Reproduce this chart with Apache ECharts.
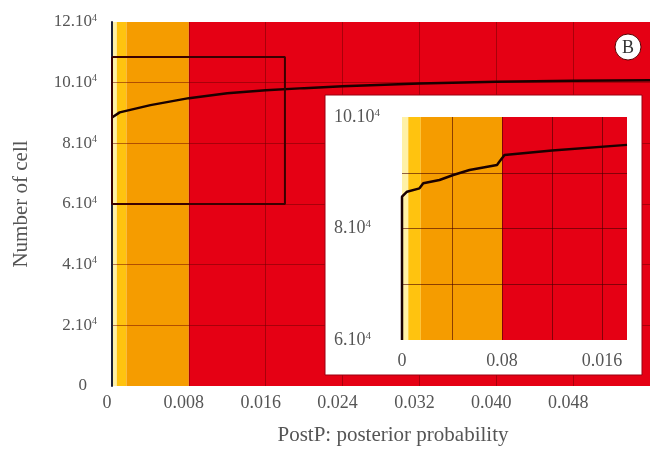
<!DOCTYPE html>
<html>
<head>
<meta charset="utf-8">
<script src="https://cdn.jsdelivr.net/npm/echarts@6/dist/echarts.min.js"></script>
<style>html,body{margin:0;padding:0;background:#fff}#c{width:654px;height:451px}</style>
</head>
<body>
<div id="c"></div>
<script>
// ---- data ----
var bandEdges = [0, 0.0005, 0.0015, 0.008, 0.056];
var bandColors = ['#fff1a6', '#ffc30f', '#f59c00', '#e50014'];

var mainX = [0, 0.0008, 0.004, 0.008, 0.012, 0.016, 0.020, 0.024, 0.032, 0.040, 0.048, 0.056];
var mainY = [88500, 90200, 92600, 94900, 96500, 97500, 98200, 98800, 99700, 100300, 100600, 100800];

var rectX = [0, 0.018, 0.018, 0, 0];
var rectY = [108500, 108500, 60000, 60000, 108500];

var insetX = [0, 0, 0.0004, 0.0014, 0.0017, 0.0030, 0.0041, 0.0054, 0.0076, 0.0078, 0.0082, 0.012, 0.018];
var insetY = [60000, 85700, 86600, 87200, 88100, 88700, 89600, 90500, 91400, 92000, 93200, 94000, 95000];

var mainXTicks = ['0', '0.008', '0.016', '0.024', '0.032', '0.040', '0.048', ''];
var mainYTicks = ['0', '2.10', '4.10', '6.10', '8.10', '10.10', '12.10'];
var insetXTicks = ['0', '', '0.08', '', '0.016', ''];
var insetYTicks = ['6.10', '', '8.10', '', '10.10'];

var SERIF = '"Liberation Serif", "DejaVu Serif", serif';

function pairs(xs, ys) { return xs.map(function (x, i) { return [x, ys[i]]; }); }
function bandAreas(edges, colors) {
  var out = [];
  for (var i = 0; i < colors.length; i++) {
    out.push([{ xAxis: edges[i], itemStyle: { color: colors[i] } }, { xAxis: edges[i + 1] }]);
  }
  return out;
}
function powLabel(t) {
  if (t === '') return '';
  if (t === '0') return '{z|0}';
  return '{b|' + t + '}{s|4}';
}
function richY(size) {
  return {
    b: { fontFamily: SERIF, fontSize: size, color: '#555' },
    s: { fontFamily: SERIF, fontSize: Math.round(size * 0.6), color: '#555', verticalAlign: 'top', padding: [0, 0, Math.round(size * 0.45), 0] },
    z: { fontFamily: SERIF, fontSize: size, color: '#555', padding: [0, 10, 0, 0] }
  };
}

var chart = echarts.init(document.getElementById('c'), null, { renderer: 'canvas' });
var insetBandEdges = bandEdges.slice(0, 4).concat([0.018]);

chart.setOption({
  animation: false,
  backgroundColor: '#fff',
  grid: [
    { left: 112, top: 22, width: 538, height: 365 },
    { left: 402, top: 117, width: 225, height: 223 }
  ],
  xAxis: [
    {
      gridIndex: 0, type: 'value', min: 0, max: 0.056, interval: 0.008, z: 2,
      axisLine: { show: false }, axisTick: { show: false },
      splitLine: { show: true, showMinLine: false, showMaxLine: false, lineStyle: { color: 'rgba(110,0,0,0.5)', width: 1 } },
      axisLabel: {
        margin: 8, fontFamily: SERIF, fontSize: 18, color: '#555', padding: [0, 10, 0, 0],
        formatter: function (v, i) { return mainXTicks[i] || ''; }
      },
      name: 'PostP: posterior probability', nameLocation: 'middle', nameGap: 39,
      nameTextStyle: { fontFamily: SERIF, fontSize: 21, color: '#555', padding: [0, 0, 0, 24] }
    },
    {
      gridIndex: 1, type: 'value', min: 0, max: 0.018, interval: 0.004, z: 7,
      axisLine: { show: false }, axisTick: { show: false },
      splitLine: { show: true, showMinLine: false, showMaxLine: false, lineStyle: { color: 'rgba(70,0,0,0.6)', width: 1 } },
      axisLabel: {
        margin: 12, fontFamily: SERIF, fontSize: 18, color: '#555',
        formatter: function (v, i) { return insetXTicks[i] || ''; }
      }
    }
  ],
  yAxis: [
    {
      gridIndex: 0, type: 'value', min: 0, max: 120000, interval: 20000, z: 2,
      axisLine: { show: true, lineStyle: { color: '#1d2238', width: 2 } }, axisTick: { show: false },
      splitLine: { show: true, showMinLine: false, showMaxLine: false, lineStyle: { color: 'rgba(110,0,0,0.5)', width: 1 } },
      axisLabel: {
        margin: 15, rich: richY(17),
        formatter: function (v, i) { return powLabel(mainYTicks[i]); }
      },
      name: 'Number of cell', nameLocation: 'middle', nameGap: 80, nameRotate: 90,
      nameTextStyle: { fontFamily: SERIF, fontSize: 21, color: '#555' }
    },
    {
      gridIndex: 1, type: 'value', min: 60000, max: 100000, interval: 10000, z: 7,
      axisLine: { show: false }, axisTick: { show: false },
      splitLine: { show: true, showMinLine: false, showMaxLine: false, lineStyle: { color: 'rgba(70,0,0,0.6)', width: 1 } },
      axisLabel: {
        margin: 68, align: 'left', rich: richY(18),
        formatter: function (v, i) { return powLabel(insetYTicks[i]); }
      }
    }
  ],
  graphic: [
    {
      type: 'rect', z: 5, shape: { x: 325, y: 95, width: 317, height: 280 },
      style: { fill: '#ffffff', stroke: '#9a0010', lineWidth: 1 }
    },
    {
      type: 'circle', z: 20, shape: { cx: 628, cy: 47, r: 13 },
      style: { fill: '#ffffff', stroke: '#5a0000', lineWidth: 1 }
    },
    {
      type: 'text', z: 21, style: {
        text: 'B', x: 628, y: 48, align: 'center', verticalAlign: 'middle',
        font: '18px ' + SERIF, fill: '#333'
      }
    }
  ],
  series: [
    {
      type: 'line', xAxisIndex: 0, yAxisIndex: 0, z: 1, data: [], silent: true,
      markArea: { z: 1, silent: true, label: { show: false }, data: bandAreas(bandEdges, bandColors) }
    },
    {
      type: 'line', xAxisIndex: 0, yAxisIndex: 0, z: 3, data: pairs(mainX, mainY),
      showSymbol: false, symbol: 'none', lineStyle: { color: '#1a0000', width: 2.5 }
    },
    {
      type: 'line', xAxisIndex: 0, yAxisIndex: 0, z: 3, data: pairs(rectX, rectY),
      showSymbol: false, symbol: 'none', lineStyle: { color: '#3a0000', width: 2 }
    },
    {
      type: 'line', xAxisIndex: 1, yAxisIndex: 1, z: 6, data: [], silent: true,
      markArea: { z: 6, silent: true, label: { show: false }, data: bandAreas(insetBandEdges, bandColors) }
    },
    {
      type: 'line', xAxisIndex: 1, yAxisIndex: 1, z: 8, data: pairs(insetX, insetY),
      showSymbol: false, symbol: 'none', lineStyle: { color: '#1a0000', width: 2.5 }
    }
  ]
});
</script>
</body>
</html>
